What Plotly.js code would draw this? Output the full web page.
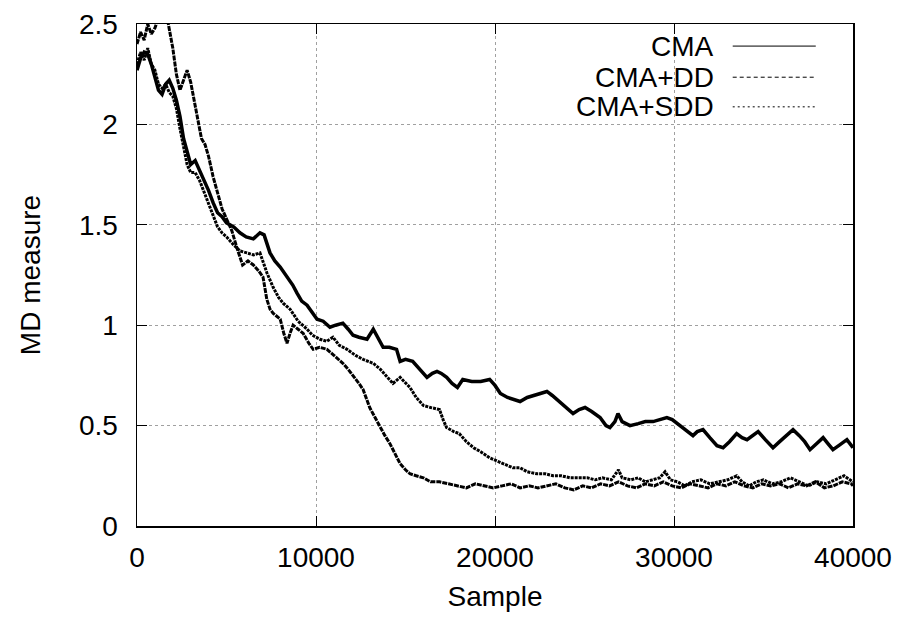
<!DOCTYPE html>
<html>
<head>
<meta charset="utf-8">
<script src="https://cdn.plot.ly/plotly-3.0.1.min.js"></script>
<style>html,body{margin:0;padding:0;background:#fff;}#chart{width:899px;height:622px;}</style>
</head>
<body>
<div id="chart"></div>
<script>
const seriesNames = ["CMA", "CMA+DD", "CMA+SDD"];

const cmaX = [0,200,400,600,800,1000,1200,1400,1600,1800,2000,2200,2400,2600,2800,3000,3250,3500,3750,4000,4250,4500,4750,5000,5400,5750,6100,6500,6870,7100,7430,7700,8000,8380,8700,8940,9200,9500,9800,10060,10400,10780,11100,11500,11800,12070,12400,12850,13200,13500,13750,14100,14500,14700,15000,15400,15800,16200,16500,16760,17000,17300,17600,17900,18200,18700,19200,19700,20000,20300,20700,21000,21400,21800,22130,22500,22900,23200,23460,23900,24360,24700,25030,25400,25870,26200,26420,26700,26870,27100,27540,28000,28400,28830,29200,29600,29900,30330,30800,31060,31300,31620,32000,32400,32740,33100,33500,33800,34080,34400,34700,35100,35530,35900,36300,36650,37000,37300,37600,38000,38330,38600,38880,39200,39660,40000];
const cmaY = [2.27,2.33,2.36,2.35,2.30,2.24,2.17,2.15,2.20,2.22,2.18,2.12,2.04,1.93,1.86,1.80,1.82,1.77,1.73,1.67,1.61,1.56,1.54,1.51,1.49,1.46,1.44,1.43,1.46,1.45,1.36,1.32,1.29,1.24,1.20,1.16,1.12,1.10,1.06,1.03,1.02,0.99,1.00,1.01,0.98,0.95,0.94,0.93,0.98,0.93,0.89,0.89,0.88,0.82,0.83,0.82,0.78,0.74,0.76,0.77,0.76,0.74,0.71,0.69,0.73,0.72,0.72,0.73,0.70,0.66,0.64,0.63,0.62,0.64,0.65,0.66,0.67,0.65,0.63,0.60,0.56,0.58,0.59,0.57,0.54,0.50,0.49,0.52,0.56,0.52,0.50,0.51,0.52,0.52,0.53,0.54,0.53,0.50,0.47,0.45,0.47,0.48,0.44,0.40,0.39,0.42,0.46,0.44,0.43,0.45,0.47,0.43,0.39,0.42,0.45,0.48,0.45,0.42,0.38,0.41,0.44,0.41,0.38,0.40,0.43,0.39];

const ddX = [0,200,400,600,800,1000,1200,1400,1600,1750,2000,2200,2400,2600,2800,3000,3200,3400,3600,3800,4000,4250,4500,4750,5000,5300,5600,5900,6200,6500,6800,7040,7250,7430,7600,8000,8200,8380,8550,8720,9000,9280,9600,9840,10200,10610,11000,11500,11800,12070,12400,12630,13000,13300,13580,13850,14130,14400,14700,15000,15250,15600,16000,16400,16900,17400,17900,18400,18900,19400,19900,20400,20900,21400,21900,22400,22900,23400,23900,24400,24900,25400,25900,26400,26900,27400,27900,28400,28900,29400,29900,30400,30900,31400,31900,32400,32900,33400,33900,34400,34900,35400,35900,36400,36900,37400,37900,38400,38900,39400,39900,40000];
const ddY = [2.40,2.46,2.42,2.50,2.45,2.48,2.53,2.55,2.56,2.50,2.38,2.25,2.17,2.22,2.27,2.21,2.12,2.03,1.93,1.90,1.84,1.74,1.66,1.58,1.53,1.47,1.38,1.30,1.32,1.30,1.27,1.24,1.13,1.08,1.06,1.03,0.96,0.91,0.96,1.00,0.98,0.96,0.91,0.88,0.89,0.88,0.85,0.81,0.78,0.75,0.71,0.68,0.59,0.54,0.49,0.45,0.41,0.36,0.31,0.28,0.26,0.25,0.24,0.22,0.22,0.21,0.20,0.19,0.21,0.20,0.19,0.20,0.21,0.19,0.20,0.19,0.20,0.21,0.19,0.18,0.20,0.19,0.21,0.20,0.22,0.20,0.19,0.21,0.20,0.22,0.20,0.19,0.21,0.20,0.19,0.21,0.20,0.22,0.20,0.19,0.21,0.20,0.21,0.19,0.21,0.20,0.22,0.19,0.20,0.22,0.21,0.20];

const sddX = [0,200,400,600,800,1000,1200,1400,1600,1800,2000,2200,2400,2600,2800,3000,3250,3500,3750,4000,4250,4500,4750,5000,5400,5750,6140,6500,6870,7100,7260,7600,7900,8160,8550,9000,9500,9800,10220,10600,10950,11300,11730,12200,12630,13200,13600,13900,14300,14700,15000,15250,15600,16000,16400,16900,17100,17300,17700,18000,18400,18800,19200,19700,20200,20700,21000,21400,21800,22350,22800,23250,23700,24200,24700,25150,25600,26000,26500,26900,27100,27600,28000,28400,28800,29200,29500,29800,30200,30600,31000,31500,32000,32500,33000,33500,33800,34200,34600,35000,35500,36000,36500,37000,37500,38000,38500,39000,39500,40000];
const sddY = [2.30,2.36,2.32,2.38,2.30,2.27,2.20,2.18,2.20,2.16,2.14,2.08,1.98,1.88,1.80,1.76,1.76,1.72,1.66,1.60,1.54,1.49,1.46,1.44,1.40,1.37,1.36,1.35,1.36,1.30,1.26,1.19,1.14,1.11,1.08,1.02,0.98,0.95,0.93,0.92,0.94,0.90,0.88,0.85,0.83,0.81,0.78,0.75,0.71,0.74,0.71,0.69,0.64,0.60,0.59,0.58,0.53,0.49,0.47,0.46,0.42,0.39,0.37,0.34,0.32,0.30,0.29,0.29,0.27,0.26,0.26,0.25,0.25,0.24,0.24,0.24,0.23,0.24,0.23,0.28,0.24,0.23,0.24,0.22,0.23,0.24,0.27,0.23,0.22,0.20,0.22,0.23,0.21,0.22,0.23,0.25,0.22,0.20,0.22,0.23,0.21,0.22,0.24,0.22,0.20,0.22,0.21,0.23,0.25,0.22];

const xTicks = [0, 10000, 20000, 30000, 40000];
const yTicks = [0, 0.5, 1, 1.5, 2, 2.5];

const FONT = "Liberation Sans, Arial, Helvetica, sans-serif";
const dashes = ["solid", "5px,1px", "3px,1px"];
const legendDashes = ["solid", "4px,3px", "2px,3px"];

const traces = [
  {x: cmaX, y: cmaY, name: seriesNames[0], type: "scatter", mode: "lines", line: {color: "#000", width: 3.5, dash: dashes[0]}},
  {x: ddX, y: ddY, name: seriesNames[1], type: "scatter", mode: "lines", line: {color: "#000", width: 3, dash: dashes[1]}},
  {x: sddX, y: sddY, name: seriesNames[2], type: "scatter", mode: "lines", line: {color: "#000", width: 3, dash: dashes[2]}}
];

const legY = [0.956, 0.894, 0.835];
const annotations = seriesNames.map((n, i) => ({
  xref: "paper", yref: "paper", x: 0.808, y: legY[i], xanchor: "right", yanchor: "middle",
  text: n, showarrow: false, font: {family: FONT, size: 28, color: "#000"}
}));
const shapes = seriesNames.map((n, i) => ({
  type: "line", xref: "paper", yref: "paper", x0: 0.832, x1: 0.948, y0: legY[i], y1: legY[i],
  line: {color: "#000", width: 1, dash: legendDashes[i]}
}));

const layout = {
  width: 899, height: 622,
  margin: {l: 137, r: 46, t: 24, b: 96},
  paper_bgcolor: "#fff", plot_bgcolor: "#fff",
  showlegend: false,
  font: {family: FONT, size: 28, color: "#000"},
  xaxis: {
    range: [0, 40000], tickvals: xTicks, ticktext: xTicks.map(String),
    ticks: "inside", ticklen: 10, tickwidth: 1, tickcolor: "#000",
    showline: true, linecolor: "#000", linewidth: 1.5, mirror: "allticks",
    showgrid: true, gridcolor: "#a0a0a0", griddash: "dot", gridwidth: 1,
    zeroline: false, ticklabelstandoff: 6,
    tickfont: {family: FONT, size: 28, color: "#000"},
    title: {text: "Sample", font: {family: FONT, size: 28, color: "#000"}, standoff: 14}
  },
  yaxis: {
    range: [0, 2.5], tickvals: yTicks, ticktext: yTicks.map(String),
    ticks: "inside", ticklen: 10, tickwidth: 1, tickcolor: "#000",
    showline: true, linecolor: "#000", linewidth: 1.5, mirror: "allticks",
    showgrid: true, gridcolor: "#a0a0a0", griddash: "dot", gridwidth: 1,
    zeroline: false, ticklabelstandoff: 12,
    tickfont: {family: FONT, size: 28, color: "#000"},
    title: {text: "MD measure", font: {family: FONT, size: 28, color: "#000"}, standoff: 30}
  },
  annotations: annotations,
  shapes: shapes
};

Plotly.newPlot("chart", traces, layout, {staticPlot: true, displayModeBar: false});
</script>
</body>
</html>
